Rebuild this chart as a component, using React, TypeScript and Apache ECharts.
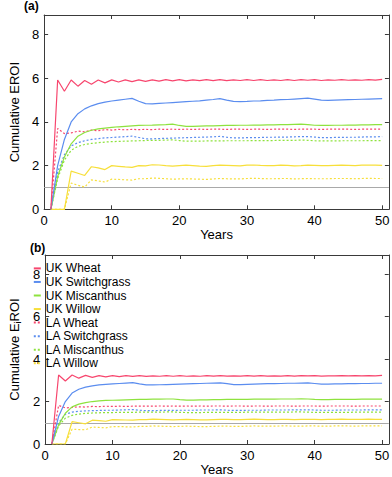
import { useEffect, useRef } from "react";
import * as echarts from "echarts";

const years = [
  1, 2, 3, 4, 5, 6, 7, 8, 9, 10,
  11, 12, 13, 14, 15, 16, 17, 18, 19, 20,
  21, 22, 23, 24, 25, 26, 27, 28, 29, 30,
  31, 32, 33, 34, 35, 36, 37, 38, 39, 40,
  41, 42, 43, 44, 45, 46, 47, 48, 49, 50,
];

const xTicks = [0, 10, 20, 30, 40, 50];
const yTicks = [0, 2, 4, 6, 8];
const breakEven = 1;

const seriesNames = [
  "UK Wheat", "UK Switchgrass", "UK Miscanthus", "UK Willow",
  "LA Wheat", "LA Switchgrass", "LA Miscanthus", "LA Willow",
];

// Panel (a): cumulative EROI
const ukWheatA = [
  0, 5.92, 5.41, 5.92, 5.64, 5.9, 5.73, 5.92, 5.79, 5.93,
  5.83, 5.93, 5.85, 5.93, 5.86, 5.93, 5.87, 5.94, 5.88, 5.94,
  5.88, 5.93, 5.89, 5.94, 5.89, 5.94, 5.89, 5.93, 5.9, 5.94,
  5.9, 5.94, 5.9, 5.93, 5.9, 5.94, 5.9, 5.94, 5.91, 5.94,
  5.9, 5.93, 5.91, 5.94, 5.91, 5.93, 5.91, 5.94, 5.92, 5.95,
];
const ukSwitchA = [
  0, 2.0, 3.2, 4.0, 4.38, 4.6, 4.74, 4.84, 4.91, 4.96,
  5.0, 5.04, 5.08, 4.95, 4.84, 4.83, 4.85, 4.87, 4.89, 4.91,
  4.93, 4.95, 4.97, 5.0, 5.03, 5.07, 5.0, 4.94, 4.93, 4.94,
  4.96, 4.97, 4.99, 5.0, 5.02, 5.03, 5.05, 5.07, 5.09, 5.05,
  5.0, 4.99, 5.0, 5.01, 5.02, 5.03, 5.04, 5.05, 5.06, 5.07,
];
const ukMiscA = [
  0, 1.5, 2.4, 3.0, 3.35, 3.52, 3.62, 3.68, 3.72, 3.75,
  3.78, 3.8, 3.82, 3.84, 3.85, 3.86, 3.87, 3.88, 3.9, 3.84,
  3.8, 3.8, 3.81, 3.82, 3.82, 3.83, 3.84, 3.84, 3.85, 3.85,
  3.86, 3.86, 3.87, 3.87, 3.88, 3.88, 3.89, 3.9, 3.88, 3.85,
  3.84, 3.84, 3.85, 3.85, 3.86, 3.86, 3.87, 3.87, 3.88, 3.88,
];
const ukWillowA = [
  0, 0, 0, 1.75, 1.65, 1.55, 1.95, 1.9, 1.82, 2.0,
  1.97, 1.94, 1.92, 2.0, 1.99, 2.04, 2.03, 2.0, 1.98, 2.0,
  2.02, 2.0, 1.98, 1.97, 2.0, 2.02, 2.01, 2.0, 1.99, 2.02,
  2.03, 2.01, 2.0, 2.0, 2.02, 2.01, 1.99, 2.0, 2.02, 2.01,
  2.0, 2.0, 2.01, 2.02, 2.01, 2.0, 2.02, 2.03, 2.02, 2.01,
];
const laWheatA = [
  0, 3.7, 3.47, 3.5, 3.58, 3.55, 3.63, 3.6, 3.65, 3.63,
  3.66, 3.64, 3.66, 3.65, 3.66, 3.65, 3.67, 3.66, 3.67, 3.66,
  3.67, 3.66, 3.67, 3.66, 3.67, 3.67, 3.66, 3.67, 3.67, 3.66,
  3.67, 3.67, 3.66, 3.67, 3.67, 3.67, 3.66, 3.67, 3.67, 3.67,
  3.66, 3.67, 3.67, 3.67, 3.67, 3.66, 3.67, 3.67, 3.67, 3.67,
];
const laSwitchA = [
  0, 1.7, 2.5, 2.9, 3.05, 3.14, 3.2, 3.24, 3.27, 3.29,
  3.31, 3.33, 3.35, 3.29, 3.23, 3.23, 3.24, 3.25, 3.26, 3.27,
  3.28, 3.29, 3.3, 3.31, 3.32, 3.34, 3.3, 3.27, 3.27, 3.28,
  3.28, 3.29, 3.3, 3.3, 3.31, 3.31, 3.32, 3.33, 3.33, 3.31,
  3.28, 3.28, 3.29, 3.29, 3.3, 3.3, 3.31, 3.32, 3.32, 3.33,
];
const laMiscA = [
  0, 1.4, 2.25, 2.7, 2.88, 2.97, 3.02, 3.05, 3.08, 3.1,
  3.11, 3.12, 3.13, 3.14, 3.15, 3.16, 3.16, 3.17, 3.18, 3.15,
  3.12, 3.12, 3.12, 3.13, 3.13, 3.13, 3.14, 3.14, 3.14, 3.14,
  3.15, 3.15, 3.15, 3.15, 3.16, 3.16, 3.16, 3.17, 3.16, 3.14,
  3.13, 3.13, 3.13, 3.14, 3.14, 3.14, 3.14, 3.15, 3.15, 3.15,
];
const laWillowA = [
  0, 0, 0, 1.2, 1.1, 1.02, 1.35, 1.3, 1.25, 1.38,
  1.37, 1.35, 1.34, 1.4, 1.4, 1.43, 1.42, 1.4, 1.38, 1.39,
  1.4, 1.39, 1.38, 1.37, 1.39, 1.41, 1.4, 1.39, 1.39, 1.41,
  1.42, 1.41, 1.4, 1.4, 1.41, 1.41, 1.39, 1.4, 1.41, 1.4,
  1.4, 1.4, 1.41, 1.41, 1.41, 1.4, 1.41, 1.42, 1.41, 1.41,
];

// Panel (b): cumulative E_i ROI
const ukWheatB = [
  0, 3.25, 2.97, 3.25, 3.1, 3.23, 3.14, 3.22, 3.16, 3.22,
  3.17, 3.22, 3.18, 3.22, 3.18, 3.21, 3.19, 3.22, 3.19, 3.22,
  3.19, 3.21, 3.19, 3.22, 3.2, 3.22, 3.2, 3.21, 3.2, 3.22,
  3.2, 3.22, 3.2, 3.21, 3.2, 3.22, 3.2, 3.22, 3.21, 3.22,
  3.2, 3.21, 3.21, 3.22, 3.21, 3.22, 3.21, 3.22, 3.21, 3.23,
];
const ukSwitchB = [
  0, 1.3, 2.0, 2.4, 2.58, 2.68, 2.74, 2.78, 2.81, 2.83,
  2.85, 2.87, 2.89, 2.83, 2.78, 2.78, 2.79, 2.8, 2.81, 2.82,
  2.83, 2.84, 2.85, 2.86, 2.87, 2.88, 2.84, 2.8, 2.8, 2.81,
  2.82, 2.83, 2.84, 2.84, 2.85, 2.86, 2.86, 2.87, 2.88, 2.85,
  2.82, 2.82, 2.83, 2.83, 2.84, 2.84, 2.85, 2.85, 2.86, 2.86,
];
const ukMiscB = [
  0, 0.9, 1.45, 1.75, 1.88, 1.95, 2.0, 2.03, 2.05, 2.06,
  2.07, 2.08, 2.09, 2.1, 2.1, 2.11, 2.11, 2.12, 2.12, 2.09,
  2.07, 2.07, 2.08, 2.08, 2.09, 2.09, 2.1, 2.1, 2.1, 2.1,
  2.11, 2.11, 2.11, 2.11, 2.12, 2.12, 2.12, 2.13, 2.12, 2.1,
  2.09, 2.09, 2.1, 2.1, 2.1, 2.1, 2.11, 2.11, 2.11, 2.11,
];
const ukWillowB = [
  0, 0, 0, 1.05, 1.0, 0.95, 1.12, 1.1, 1.07, 1.15,
  1.14, 1.13, 1.12, 1.15, 1.15, 1.17, 1.16, 1.15, 1.14, 1.15,
  1.16, 1.15, 1.14, 1.14, 1.15, 1.16, 1.16, 1.15, 1.15, 1.16,
  1.17, 1.16, 1.15, 1.15, 1.16, 1.16, 1.15, 1.16, 1.16, 1.16,
  1.15, 1.16, 1.16, 1.17, 1.16, 1.16, 1.16, 1.17, 1.16, 1.16,
];
const laWheatB = [
  0, 1.82, 1.7, 1.72, 1.75, 1.74, 1.77, 1.76, 1.78, 1.77,
  1.78, 1.77, 1.78, 1.78, 1.78, 1.78, 1.79, 1.78, 1.79, 1.78,
  1.79, 1.78, 1.79, 1.78, 1.79, 1.79, 1.78, 1.79, 1.79, 1.78,
  1.79, 1.79, 1.78, 1.79, 1.79, 1.79, 1.78, 1.79, 1.79, 1.79,
  1.78, 1.79, 1.79, 1.79, 1.79, 1.78, 1.79, 1.79, 1.79, 1.79,
];
const laSwitchB = [
  0, 1.0, 1.4, 1.5, 1.54, 1.56, 1.57, 1.58, 1.59, 1.59,
  1.6, 1.61, 1.62, 1.59, 1.57, 1.57, 1.58, 1.58, 1.58, 1.59,
  1.59, 1.59, 1.6, 1.6, 1.6, 1.61, 1.59, 1.58, 1.58, 1.59,
  1.59, 1.59, 1.6, 1.6, 1.6, 1.6, 1.61, 1.61, 1.61, 1.6,
  1.59, 1.59, 1.59, 1.6, 1.6, 1.6, 1.6, 1.61, 1.61, 1.61,
];
const laMiscB = [
  0, 0.85, 1.22, 1.35, 1.41, 1.44, 1.46, 1.47, 1.48, 1.48,
  1.49, 1.49, 1.49, 1.5, 1.5, 1.5, 1.5, 1.51, 1.51, 1.49,
  1.48, 1.48, 1.48, 1.49, 1.49, 1.49, 1.49, 1.49, 1.49, 1.5,
  1.5, 1.5, 1.5, 1.5, 1.5, 1.5, 1.51, 1.51, 1.5, 1.49,
  1.49, 1.49, 1.49, 1.49, 1.49, 1.5, 1.5, 1.5, 1.5, 1.5,
];
const laWillowB = [
  0, 0, 0, 0.7, 0.68, 0.67, 0.8, 0.78, 0.76, 0.82,
  0.82, 0.81, 0.8, 0.83, 0.83, 0.85, 0.84, 0.83, 0.82, 0.83,
  0.84, 0.83, 0.82, 0.82, 0.83, 0.84, 0.84, 0.83, 0.83, 0.84,
  0.85, 0.84, 0.84, 0.84, 0.85, 0.85, 0.84, 0.84, 0.85, 0.85,
  0.84, 0.84, 0.85, 0.85, 0.85, 0.84, 0.85, 0.85, 0.85, 0.85,
];

const panelA = [ukWheatA, ukSwitchA, ukMiscA, ukWillowA, laWheatA, laSwitchA, laMiscA, laWillowA];
const panelB = [ukWheatB, ukSwitchB, ukMiscB, ukWillowB, laWheatB, laSwitchB, laMiscB, laWillowB];

const cropColors = ["#f7466e", "#5b8def", "#8ee23e", "#f7df3a"];
const FONT = "'Liberation Sans', Arial, Helvetica, sans-serif";
const FRAME = "#3a3a3a";
const X_MAX = 51;
const Y_MAX = 8.9;

function makeXAxes(gi: number) {
  const common = {
    type: "value" as const,
    gridIndex: gi,
    min: 0,
    max: X_MAX,
    splitLine: { show: false },
    axisLine: { show: true, onZero: false, lineStyle: { color: FRAME, width: 1 } },
    axisTick: { show: true, inside: true, length: 4, customValues: xTicks, lineStyle: { color: FRAME } },
  };
  return [
    {
      ...common,
      position: "bottom",
      axisLabel: { customValues: xTicks, margin: 5, color: "#000", fontSize: 13, fontFamily: FONT },
      name: "Years",
      nameLocation: "middle",
      nameGap: 19,
      nameTextStyle: { color: "#000", fontSize: 13, fontFamily: FONT },
    },
    { ...common, position: "top", axisLabel: { show: false } },
  ];
}

function makeYAxes(gi: number, name: string) {
  const common = {
    type: "value" as const,
    gridIndex: gi,
    min: 0,
    max: Y_MAX,
    splitLine: { show: false },
    axisLine: { show: true, onZero: false, lineStyle: { color: FRAME, width: 1 } },
    axisTick: { show: true, inside: true, length: 4, customValues: yTicks, lineStyle: { color: FRAME } },
  };
  return [
    {
      ...common,
      position: "left",
      axisLabel: { customValues: yTicks, margin: 5, color: "#000", fontSize: 13, fontFamily: FONT },
      name,
      nameLocation: "middle",
      nameGap: gi === 0 ? 10 : 16,
      nameTextStyle: {
        color: "#000",
        fontSize: 13,
        fontFamily: FONT,
        rich: { sub: { fontSize: 9, color: "#000", fontFamily: FONT, padding: [6, 0, 0, 0] } },
      },
    },
    { ...common, position: "right", axisLabel: { show: false } },
  ];
}

function makeSeries(panel: number[][], gi: number) {
  return panel.map((vals, i) => {
    const color = cropColors[i % 4];
    const s: any = {
      type: "line",
      name: seriesNames[i],
      xAxisIndex: gi * 2,
      yAxisIndex: gi * 2,
      data: years.map((yr, k) => [yr, vals[k]]),
      symbol: "none",
      showSymbol: false,
      lineStyle: { color, width: 1.2, type: i >= 4 ? [2, 2] : "solid" },
      itemStyle: { color },
      z: 3 + (7 - i),
    };
    if (i === 0) {
      s.markLine = {
        silent: true,
        symbol: "none",
        label: { show: false },
        lineStyle: { color: "#a9a9a9", width: 1, type: "solid" },
        data: [{ yAxis: breakEven }],
        z: 1,
      };
    }
    return s;
  });
}

export default function App() {
  const ref = useRef<HTMLDivElement>(null);
  useEffect(() => {
    if (!ref.current) return;
    const chart = echarts.init(ref.current, null, { renderer: "svg" });
    const option: any = {
      animation: false,
      backgroundColor: "#fff",
      textStyle: { fontFamily: FONT },
      grid: [
        { left: 24.7, top: 15, width: 364.6, height: 194.3, containLabel: false },
        { left: 30.5, top: 255, width: 358.8, height: 191, containLabel: false },
      ],
      xAxis: [...makeXAxes(0), ...makeXAxes(1)],
      yAxis: [...makeYAxes(0, "Cumulative EROI"), ...makeYAxes(1, "Cumulative E{sub|i}ROI")],
      legend: {
        show: true,
        orient: "vertical",
        left: 32.5,
        top: 262.4,
        padding: 0,
        itemWidth: 7,
        itemHeight: 12,
        itemGap: 1.55,
        selectedMode: false,
        itemStyle: { opacity: 0 },
        data: seriesNames,
        textStyle: { fontSize: 12, fontFamily: FONT, color: "#000" },
      },
      graphic: [
        { type: "text", left: 24, top: 0, style: { text: "(a)", font: `bold 12px ${FONT}`, fill: "#000" } },
        { type: "text", left: 30, top: 242, style: { text: "(b)", font: `bold 12px ${FONT}`, fill: "#000" } },
      ],
      series: [...makeSeries(panelA, 0), ...makeSeries(panelB, 1)],
    };
    chart.setOption(option);
    return () => chart.dispose();
  }, []);
  return (
    <div
      ref={ref}
      style={{ position: "fixed", left: 0, top: 0, width: 392, height: 477, background: "#fff" }}
    />
  );
}
